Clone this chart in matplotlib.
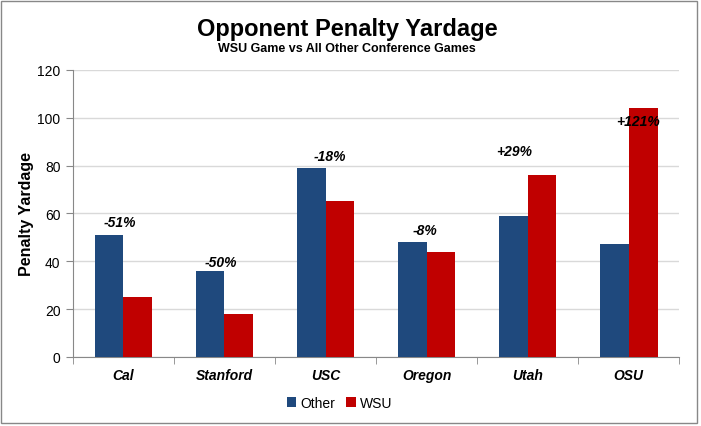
import numpy as np
import matplotlib.pyplot as plt
from matplotlib.patches import Rectangle

plt.rcParams['font.family'] = ['Liberation Sans', 'DejaVu Sans']

teams = ['Cal', 'Stanford', 'USC', 'Oregon', 'Utah', 'OSU']
other = [51, 36, 79, 48, 59, 47]
wsu = [25, 18, 65, 44, 76, 104]
pct_labels = ['-51%', '-50%', '-18%', '-8%', '+29%', '+121%']
label_y = [56.5, 39.7, 84, 53, 86, 98.7]   # where the % notes sit
label_dx = [-0.04, -0.04, 0.04, -0.02, -0.13, 0.09]

fig = plt.figure(figsize=(7.01, 4.27), dpi=100)
ax = fig.add_axes([0.104, 0.162, 0.865, 0.672])

x = np.arange(len(teams))
w = 0.285
ax.bar(x - w/2, other, w, color='#1F497D', label='Other', zorder=3)
ax.bar(x + w/2, wsu, w, color='#C00000', label='WSU', zorder=3)

for i, t in enumerate(pct_labels):
    ax.text(x[i] + label_dx[i], label_y[i], t, ha='center', va='center',
            fontsize=10, fontweight='bold', fontstyle='italic', zorder=4)

ax.set_xlim(-0.5, len(teams) - 0.5)
ax.set_ylim(0, 120)
ax.set_yticks(range(0, 121, 20))
ax.set_xticks(x)
ax.set_xticklabels(teams, fontsize=10, fontweight='bold', fontstyle='italic')
ax.set_xticks(np.arange(-0.5, len(teams), 1), minor=True)
ax.tick_params(axis='x', which='major', length=0, pad=8)
ax.tick_params(axis='x', which='minor', length=5, color='#888888')
ax.tick_params(axis='y', length=5, color='#888888', labelsize=10, pad=4)
ax.grid(axis='y', color='#d9d9d9', linewidth=1, zorder=0)
for s in ['top', 'right']:
    ax.spines[s].set_visible(False)
for s in ['left', 'bottom']:
    ax.spines[s].set_color('#888888')
ax.set_ylabel('Penalty Yardage', fontsize=11.5, fontweight='bold')
ax.yaxis.set_label_coords(-0.064, 0.5)

fig.text(0.495, 0.93, 'Opponent Penalty Yardage', ha='center', va='center',
         fontsize=17, fontweight='bold')
fig.text(0.495, 0.885, 'WSU Game vs All Other Conference Games', ha='center',
         va='center', fontsize=9, fontweight='bold')

ax.legend(loc='center', bbox_to_anchor=(0.44, -0.16), ncol=2, frameon=False,
          fontsize=10, handlelength=0.7, handleheight=0.7, handletextpad=0.3,
          columnspacing=0.8)

fig.patches.append(Rectangle((0.002, 0.008), 0.992, 0.988, transform=fig.transFigure,
                             fill=False, edgecolor='#888888', linewidth=1))

fig.savefig('out.png', dpi=100)
